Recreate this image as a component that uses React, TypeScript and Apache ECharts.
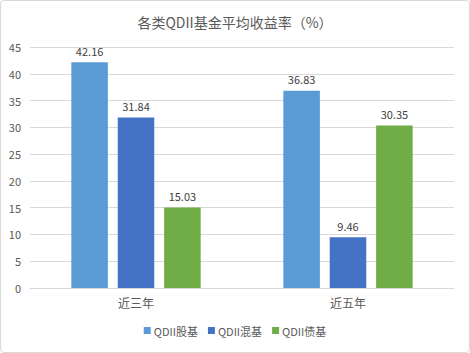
import React, { useEffect, useRef } from "react";
import * as echarts from "echarts";

const categories = ["近三年", "近五年"];
const seriesNames = ["QDII股基", "QDII混基", "QDII债基"];
const stockFund = [42.16, 36.83];
const mixedFund = [31.84, 9.46];
const bondFund = [15.03, 30.35];
const colors = ["#5B9BD5", "#4472C4", "#70AD47"];

export default function App() {
  const ref = useRef<HTMLDivElement>(null);
  useEffect(() => {
    document.body.style.margin = "0";
    const chart = echarts.init(ref.current!, null, { renderer: "svg" });
    const font = "Microsoft YaHei, Noto Sans CJK SC, sans-serif";
    const values = [stockFund, mixedFund, bondFund];
    chart.setOption({
      animation: false,
      textStyle: { fontFamily: font },
      title: {
        text: "各类QDII基金平均收益率（%）",
        left: "center",
        top: 9,
        textStyle: { fontSize: 14, fontWeight: "normal", color: "#595959", fontFamily: font },
      },
      legend: {
        bottom: 11,
        left: "center",
        itemWidth: 7,
        itemHeight: 7,
        itemGap: 10,
        icon: "rect",
        textStyle: { fontSize: 11, color: "#595959", padding: [0, 0, 0, -2] },
        data: seriesNames,
      },
      grid: { left: 29, right: 15, top: 46, bottom: 64, containLabel: false },
      xAxis: {
        type: "category",
        data: categories,
        axisLine: { lineStyle: { color: "#d9d9d9" } },
        axisTick: { show: false },
        axisLabel: { color: "#595959", fontSize: 12, margin: 8 },
      },
      yAxis: {
        type: "value",
        min: 0,
        max: 45,
        interval: 5,
        axisLine: { show: false },
        axisTick: { show: false },
        axisLabel: { color: "#595959", fontSize: 11, margin: 9 },
        splitLine: { lineStyle: { color: "#d9d9d9" } },
      },
      series: seriesNames.map((name, i) => ({
        name,
        type: "bar",
        data: values[i],
        barGap: "27%",
        barCategoryGap: "39%",
        itemStyle: { color: colors[i] },
        label: {
          show: true,
          position: "top",
          distance: 6,
          color: "#404040",
          fontSize: 11,
          formatter: (p: any) => p.value.toFixed(2),
        },
      })),
    });
    return () => chart.dispose();
  }, []);
  return (
    <div
      ref={ref}
      style={{
        width: 470,
        height: 353,
        boxSizing: "border-box",
        border: "1px solid #d9d9d9",
        borderRadius: 4,
      }}
    />
  );
}
